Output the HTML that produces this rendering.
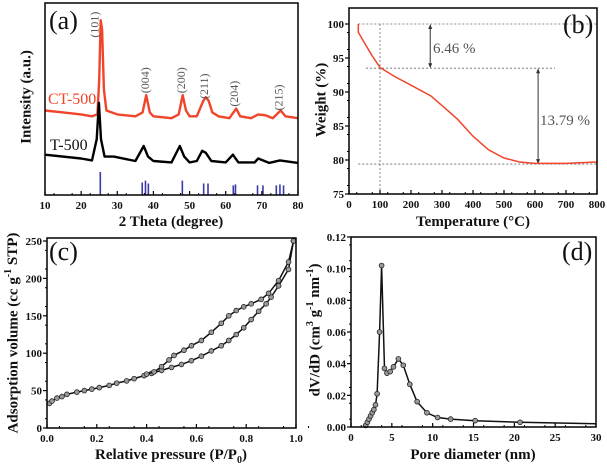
<!DOCTYPE html>
<html><head><meta charset="utf-8">
<style>
html,body{margin:0;padding:0;background:#fff;}
svg{display:block;}
svg text{font-family:"Liberation Serif","DejaVu Serif",serif;}
.tk{font-weight:bold;font-size:11px;fill:#111;}
.ttl{font-weight:bold;font-size:15px;fill:#111;}
</style></head>
<body>
<svg id="fig" width="607" height="470" viewBox="0 0 607 470" xmlns="http://www.w3.org/2000/svg" font-family="Liberation Serif, DejaVu Serif, serif"></svg>
<script>
// ---- Panel (a) XRD data ----
const ctX = [10,15,20,23,24.5,25.0,25.4,25.8,26.3,27,30,35,37,38,39,40,45,47,48.1,49,50,52,53.8,54.5,55.3,56.3,58,61,62.9,64,67,69,71,73,75.2,76.5,80];
const ctY = [44,43,42,41,42,60,91,86,55,44,42,41,43,52,43,41,40,42,52,44,41,41,49,51,49,43,41,40,45,41,40,42,41.5,40,44,41,40];
const tX = [10,20,23,24.3,24.9,25.5,26.5,29,35,37.3,38.5,40,45,47.3,48.5,50,52,53.5,54.5,56,60,62,63.5,68,69,72,75,80];
const tY = [21,19,18,29,48,29,20,20,17.7,25.5,20,17.7,17,25.5,20,17,17.7,23,22,17.7,17,21,17,17,19,16.7,18,16.7];
const refX = [25.3,36.9,37.8,38.6,48.0,53.9,55.1,62.1,62.7,68.8,70.3,74.0,75.0,76.0];
const refH = [12,6.5,7.5,6,7.5,6,6,5,5.5,5,5,5,5.5,5];
const aTicks = [10,20,30,40,50,60,70,80];
const peakLabels = ["(101)","(004)","(200)","(211)","(204)","(215)"];
const peakLabelX = [24.0,38.0,48.0,54.3,62.7,75.0];
const peakLabelY = [82,53,53,50,46,44];
// ---- Panel (b) TGA ----
const tgaX = [30,30,50,75,100,150,200,265,300,350,400,450,500,550,600,700,800];
const tgaY = [100,98.8,97.2,95.3,93.6,92.2,91,89.4,88,86,83.5,81.5,80.3,79.7,79.5,79.5,79.7];
const bXTicks = [0,100,200,300,400,500,600,700,800];
const bYTicks = [75,80,85,90,95,100];
// ---- Panel (c) isotherm ----
const adsX = [0.01,0.02,0.04,0.06,0.08,0.12,0.15,0.18,0.21,0.25,0.28,0.32,0.35,0.39,0.42,0.46,0.50,0.54,0.58,0.62,0.66,0.70,0.73,0.76,0.79,0.82,0.85,0.88,0.90,0.93,0.97,0.99];
const adsY = [33,36,40,42,45,48,50,52,54,57,60,63,66,70,73,77,81,85,90,96,103,110,117,125,134,145,156,166,175,190,212,250];
const desX = [0.99,0.97,0.93,0.89,0.86,0.82,0.79,0.76,0.73,0.70,0.66,0.62,0.58,0.55,0.51,0.49,0.46,0.43,0.40];
const desY = [250,222,197,180,172,166,162,157,150,140,128,117,110,104,97,91,82,75,72];
const cXTicks = [0,0.2,0.4,0.6,0.8,1.0];
const cYTicks = [0,50,100,150,200,250];
// ---- Panel (d) pore size ----
const poreX = [1.8,2.0,2.2,2.4,2.6,2.8,3.0,3.2,3.5,3.75,4.1,4.4,4.8,5.2,5.8,6.4,7.2,8.1,9.3,10.6,12.2,15.2,20.7,30];
const poreY = [0.001,0.003,0.005,0.007,0.009,0.011,0.014,0.021,0.060,0.102,0.037,0.034,0.035,0.038,0.043,0.039,0.027,0.016,0.009,0.006,0.005,0.004,0.003,0.002];
const dXTicks = [0,5,10,15,20,25,30];
const dYTicks = [0,0.02,0.04,0.06,0.08,0.10,0.12];

const NS="http://www.w3.org/2000/svg";
const svg=document.getElementById('fig');
function mk(tag,attrs,parent,text){const e=document.createElementNS(NS,tag);for(const k in attrs)e.setAttribute(k,attrs[k]);if(text!==undefined)e.textContent=text;(parent||svg).appendChild(e);return e;}
function scale(d0,d1,r0,r1){return v=>r0+(v-d0)/(d1-d0)*(r1-r0);}
function frame(g,x0,y0,x1,y1){const r=mk('rect',{x:x0,y:y0,width:x1-x0,height:y1-y0,fill:'none',stroke:'#000','stroke-width':1.5},g);}
function pathFrom(xs,ys,sx,sy){return xs.map((x,i)=>(i?'L':'M')+sx(x).toFixed(1)+','+sy(ys[i]).toFixed(1)).join(' ');}
function xTicks(g,ticks,sx,yb,fmt,minorStep){
  ticks.forEach(t=>{mk('line',{x1:sx(t),x2:sx(t),y1:yb,y2:yb-4,stroke:'#000','stroke-width':1.2},g);
    const tx=mk('text',{x:sx(t),y:yb+14,'text-anchor':'middle',class:'tk'},g,fmt(t));});
  if(minorStep){for(let v=ticks[0];v<ticks[ticks.length-1];v+=minorStep){mk('line',{x1:sx(v+minorStep/2),x2:sx(v+minorStep/2),y1:yb,y2:yb-2,stroke:'#000'},g);}}
}
function yTicks(g,ticks,sy,xl,fmt,minorStep){
  ticks.forEach(t=>{mk('line',{x1:xl,x2:xl-4,y1:sy(t),y2:sy(t),stroke:'#000','stroke-width':1.2},g);
    const tx=mk('text',{x:xl-5,y:sy(t)+4,'text-anchor':'end',class:'tk'},g,fmt(t));});
  if(minorStep){for(let v=ticks[0];v<ticks[ticks.length-1]-1e-9;v+=minorStep){mk('line',{x1:xl,x2:xl-2,y1:sy(v+minorStep/2),y2:sy(v+minorStep/2),stroke:'#000'},g);}}
}

// ===== Panel a =====
(function(){
  const g=mk('g',{});
  const sx=scale(10,80,45,298), sy=scale(0,100,195,3);
  const ct=mk('path',{d:pathFrom(ctX,ctY,sx,sy),fill:'none',stroke:'#f0452a','stroke-width':2.4,'stroke-linejoin':'round'},g);
  
  const t5=mk('path',{d:pathFrom(tX,tY,sx,sy),fill:'none',stroke:'#000','stroke-width':2.4,'stroke-linejoin':'round'},g);
  
  refX.forEach((x,i)=>{const b=mk('line',{x1:sx(x),x2:sx(x),y1:sy(0),y2:sy(refH[i]),stroke:'#3a3aa8','stroke-width':1.6},g);
    });
  peakLabels.forEach((l,i)=>{const x=sx(peakLabelX[i]),y=sy(peakLabelY[i]);
    const t=mk('text',{x:x,y:y,transform:`rotate(-90 ${x} ${y})`,'font-size':12,fill:'#555','dominant-baseline':'middle'},g,l);
    });
  frame(g,45,3,298,195);
  xTicks(g,aTicks,sx,195,v=>v,5);
  let e=mk('text',{x:49,y:29,'font-size':26,fill:'#111'},g,'(a)');
  e=mk('text',{x:48,y:104,'font-size':16,fill:'#f0452a'},g,'CT-500');
  e=mk('text',{x:50,y:150,'font-size':16,fill:'#111'},g,'T-500');
  e=mk('text',{x:27,y:97,class:'ttl','text-anchor':'middle',transform:'rotate(-90 27 97)','dominant-baseline':'middle'},g,'Intensity (a.u.)');
  e=mk('text',{x:171,y:226,class:'ttl','text-anchor':'middle'},g,'2 Theta (degree)');
})();

// ===== Panel b =====
(function(){
  const g=mk('g',{});
  const sx=scale(0,800,349,597), sy=scale(75,100,194,24);
  const dash={stroke:'#666','stroke-width':0.8,'stroke-dasharray':'2,2'};
  mk('line',Object.assign({x1:sx(30),x2:sx(800),y1:sy(100),y2:sy(100)},dash),g);
  mk('line',Object.assign({x1:sx(55),x2:sx(665),y1:sy(93.5),y2:sy(93.5)},dash),g);
  mk('line',Object.assign({x1:sx(30),x2:sx(800),y1:sy(79.4),y2:sy(79.4)},dash),g);
  mk('line',Object.assign({x1:sx(100),x2:sx(100),y1:sy(100),y2:sy(75)},dash),g);
  function arrow(x,ya,yb){mk('line',{x1:x,x2:x,y1:ya+3,y2:yb-3,stroke:'#333','stroke-width':1},g);
    mk('path',{d:`M${x-2},${ya+5}L${x},${ya}L${x+2},${ya+5}Z`,fill:'#333'},g);
    mk('path',{d:`M${x-2},${yb-5}L${x},${yb}L${x+2},${yb-5}Z`,fill:'#333'},g);}
  arrow(sx(262),sy(100),sy(93.5));arrow(sx(610),sy(93.5),sy(79.4));
  const c=mk('path',{d:pathFrom(tgaX,tgaY,sx,sy),fill:'none',stroke:'#f0452a','stroke-width':1.5},g);
  
  frame(g,349,8,597,194);
  xTicks(g,bXTicks,sx,194,v=>v,50);
  yTicks(g,bYTicks,sy,349,v=>v,2.5);
  let e=mk('text',{x:433,y:53,'font-size':15,fill:'#555'},g,'6.46 %');
  e=mk('text',{x:540,y:125,'font-size':15,fill:'#555'},g,'13.79 %');
  e=mk('text',{x:563,y:33,'font-size':26,fill:'#111'},g,'(b)');
  e=mk('text',{x:322,y:100,class:'ttl','text-anchor':'middle',transform:'rotate(-90 322 100)','dominant-baseline':'middle'},g,'Weight (%)');
  e=mk('text',{x:473,y:226,class:'ttl','text-anchor':'middle'},g,'Temperature (\u00B0C)');
})();

// ===== Panel c =====
(function(){
  const g=mk('g',{});
  const sx=scale(0,1,47,296), sy=scale(0,250,428,241);
  [[adsX,adsY,'adsorption-branch'],[desX,desY,'desorption-branch']].forEach(([xs,ys,n])=>{
    const p=mk('path',{d:pathFrom(xs,ys,sx,sy),fill:'none',stroke:'#111','stroke-width':1.5},g);
    
    xs.forEach((x,i)=>{const m=mk('circle',{cx:sx(x),cy:sy(ys[i]),r:2.4,fill:'#999',stroke:'#222','stroke-width':0.8},g);
      });
  });
  frame(g,47,238,296,428);
  xTicks(g,cXTicks,sx,428,v=>v.toFixed(1),0.1);
  yTicks(g,cYTicks,sy,47,v=>v,25);
  let e=mk('text',{x:49,y:260,'font-size':26,fill:'#111'},g,'(c)');
  e=mk('text',{x:14,y:333,class:'ttl','text-anchor':'middle',transform:'rotate(-90 14 333)','dominant-baseline':'middle'},g);
  e.innerHTML='Adsorption volume (cc g<tspan dy="-5" font-size="10">-1</tspan><tspan dy="5"> STP)</tspan>';
  
  e=mk('text',{x:171,y:459,class:'ttl','text-anchor':'middle'},g);
  e.innerHTML='Relative pressure (P/P<tspan dy="4" font-size="10">0</tspan><tspan dy="-4">)</tspan>';
  
})();

// ===== Panel d =====
(function(){
  const g=mk('g',{});
  const sx=scale(0,30,351,596), sy=scale(0,0.12,427,237);
  const p=mk('path',{d:pathFrom(poreX,poreY,sx,sy),fill:'none',stroke:'#111','stroke-width':1.5},g);
  
  poreX.forEach((x,i)=>{if(i===poreX.length-1)return;const m=mk('circle',{cx:sx(x),cy:sy(poreY[i]),r:2.4,fill:'#999',stroke:'#222','stroke-width':0.8},g);
    });
  frame(g,351,237,596,427);
  xTicks(g,dXTicks,sx,427,v=>v,2.5);
  yTicks(g,dYTicks,sy,351,v=>v.toFixed(2),0.01);
  let e=mk('text',{x:562,y:260,'font-size':26,fill:'#111'},g,'(d)');
  e=mk('text',{x:316,y:330,class:'ttl','text-anchor':'middle',transform:'rotate(-90 316 330)','dominant-baseline':'middle'},g);
  e.innerHTML='dV/dD (cm<tspan dy="-5" font-size="10">3</tspan><tspan dy="5"> g</tspan><tspan dy="-5" font-size="10">-1</tspan><tspan dy="5"> nm</tspan><tspan dy="-5" font-size="10">-1</tspan><tspan dy="5">)</tspan>';
  
  e=mk('text',{x:473,y:459,class:'ttl','text-anchor':'middle'},g,'Pore diameter (nm)');
})();
</script>
</body></html>
